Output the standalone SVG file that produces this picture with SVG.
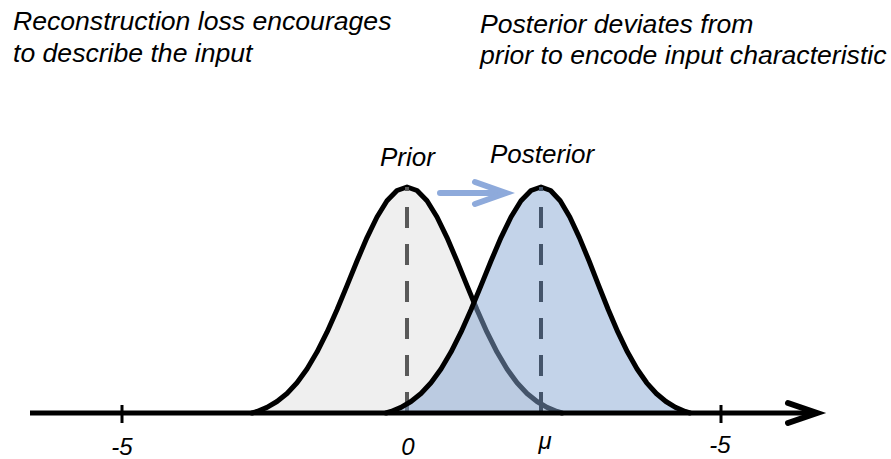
<svg xmlns="http://www.w3.org/2000/svg" width="891" height="459" viewBox="0 0 891 459">
<style>
text{font-family:"Liberation Sans",Arial,sans-serif;font-style:italic;fill:#000}
.cap{font-size:26.6px}
.lbl{font-size:26px}
.ax{font-size:24px;text-anchor:middle}
.outline{fill:none;stroke:#000;stroke-width:5;stroke-linejoin:round;stroke-linecap:round}
.dash{fill:none;stroke-width:4;stroke-dasharray:21 16}
</style>
<rect width="891" height="459" fill="#fff"/>
<g id="caption-left">
<text class="cap" x="13" y="30">Reconstruction loss encourages</text>
<text class="cap" x="13" y="62">to describe the input</text>
</g>
<g id="caption-right">
<text class="cap" x="480" y="33">Posterior deviates from</text>
<text class="cap" x="480" y="64">prior to encode input characteristic</text>
</g>
<g id="prior">
<polygon fill="#efefef" points="252,413 257,411.5 267,407.4 277,401.5 287,393.5 297,382.8 307,369 317,352.1 327,332.2 337,309.7 347,285.6 357,261 367,237.6 377,217 387,200.8 397,190.5 407,187 417,190.5 427,200.8 437,217 447,237.6 457,261 467,285.6 477,309.7 487,332.2 497,352.1 507,369 517,382.8 527,393.5 537,401.5 547,407.4 557,411.5 562,413"/>
<polyline class="outline" points="252,413 257,411.5 267,407.4 277,401.5 287,393.5 297,382.8 307,369 317,352.1 327,332.2 337,309.7 347,285.6 357,261 367,237.6 377,217 387,200.8 397,190.5 407,187 417,190.5 427,200.8 437,217 447,237.6 457,261 467,285.6 477,309.7 487,332.2 497,352.1 507,369 517,382.8 527,393.5 537,401.5 547,407.4 557,411.5 562,413"/>
<line class="dash" stroke="#595959" x1="407" y1="413" x2="407" y2="187"/>
<text class="lbl" x="380" y="166">Prior</text>
</g>
<g id="posterior">
<polygon fill="#88a8d4" fill-opacity="0.5" points="386,413 391,411.5 401,407.4 411,401.5 421,393.5 431,382.8 441,369 451,352.1 461,332.2 471,309.7 481,285.6 491,261 501,237.6 511,217 521,200.8 531,190.5 541,187 550.6,190.5 560.2,200.8 569.8,217 579.4,237.6 589.1,261 598.7,285.6 608.3,309.7 617.9,332.2 627.5,352.1 637.1,369 646.7,382.8 656.3,393.5 665.9,401.5 675.5,407.4 685.2,411.5 690,413"/>
<polyline class="outline" points="386,413 391,411.5 401,407.4 411,401.5 421,393.5 431,382.8 441,369 451,352.1 461,332.2 471,309.7 481,285.6 491,261 501,237.6 511,217 521,200.8 531,190.5 541,187 550.6,190.5 560.2,200.8 569.8,217 579.4,237.6 589.1,261 598.7,285.6 608.3,309.7 617.9,332.2 627.5,352.1 637.1,369 646.7,382.8 656.3,393.5 665.9,401.5 675.5,407.4 685.2,411.5 690,413"/>
<line class="dash" stroke="#44546a" x1="541" y1="413" x2="541" y2="187"/>
<text class="lbl" x="490" y="163">Posterior</text>
</g>
<g id="connectors">
<g id="shift-arrow" fill="none" stroke="#8eaadb" stroke-width="6" stroke-linecap="round" stroke-linejoin="miter">
<line x1="440" y1="193" x2="503" y2="193"/>
<polyline points="475,182 506,193 475,204"/>
</g>
<g id="axis" fill="none" stroke="#000">
<line x1="30" y1="413" x2="814" y2="413" stroke-width="5"/>
<polyline points="788,403 817,413 788,423" stroke-width="6" stroke-linecap="round" stroke-linejoin="miter"/>
<line x1="122" y1="405" x2="122" y2="423" stroke-width="3"/>
<line x1="721" y1="405" x2="721" y2="423" stroke-width="3"/>
</g>
</g>
<g id="axis-labels">
<text class="ax" x="122" y="455">-5</text>
<text class="ax" x="408" y="455">0</text>
<text class="ax" x="545" y="449">μ</text>
<text class="ax" x="720" y="453">-5</text>
</g>
</svg>
